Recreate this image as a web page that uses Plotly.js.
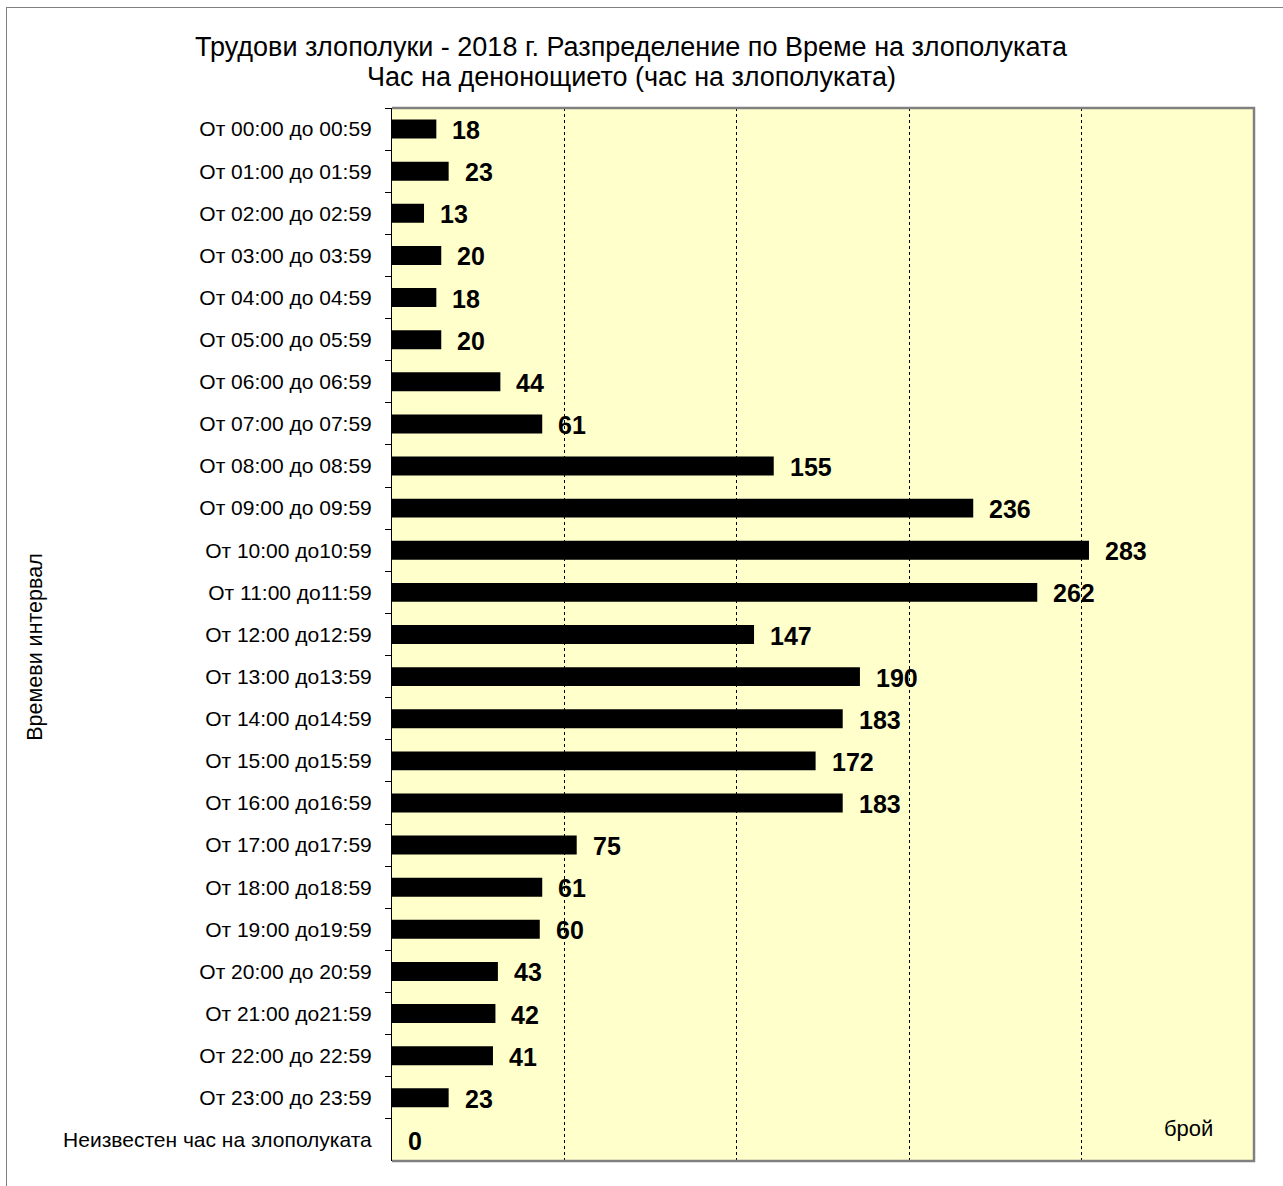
<!DOCTYPE html>
<html><head><meta charset="utf-8">
<script src="https://cdn.plot.ly/plotly-3.0.1.min.js"></script>
<style>
html,body{margin:0;padding:0;background:#fff;}
#frame{position:absolute;left:6px;top:7px;width:1300px;height:1200px;border:1px solid #808080;box-sizing:border-box;pointer-events:none;}
#chart{position:absolute;left:0;top:0;width:1283px;height:1186px;}
</style></head>
<body>
<div id="chart"></div>
<div id="frame"></div>
<script>
const categories = [
  "От 00:00 до 00:59","От 01:00 до 01:59","От 02:00 до 02:59","От 03:00 до 03:59",
  "От 04:00 до 04:59","От 05:00 до 05:59","От 06:00 до 06:59","От 07:00 до 07:59",
  "От 08:00 до 08:59","От 09:00 до 09:59","От 10:00 до10:59","От 11:00 до11:59",
  "От 12:00 до12:59","От 13:00 до13:59","От 14:00 до14:59","От 15:00 до15:59",
  "От 16:00 до16:59","От 17:00 до17:59","От 18:00 до18:59","От 19:00 до19:59",
  "От 20:00 до 20:59","От 21:00 до21:59","От 22:00 до 22:59","От 23:00 до 23:59",
  "Неизвестен час на злополуката"
];
const values = [18,23,13,20,18,20,44,61,155,236,283,262,147,190,183,172,183,75,61,60,43,42,41,23,0];
const titleLines = ["Трудови злополуки - 2018 г. Разпределение по Време на злополуката",
                    "Час на денонощието (час на злополуката)"];
const yTitle = "Времеви интервал";
const unitLabel = "брой";

const FONT = "Arial, Liberation Sans, sans-serif";

const trace = {
  type: "bar", orientation: "h",
  x: values, y: categories,
  marker: {color: "#000000", line: {width: 0}},
  hoverinfo: "x+y"
};

const annotations = values.map((v, i) => ({
  x: v, y: categories[i], xref: "x", yref: "y",
  text: "<b>" + v + "</b>", showarrow: false, xanchor: "left", yanchor: "middle",
  xshift: 14, yshift: -1,
  font: {family: FONT, size: 25, color: "#000"}
}));
annotations.push({
  x: 0.2773, y: 1.0579, xref: "paper", yref: "paper", text: titleLines[0], showarrow: false,
  xanchor: "center", yanchor: "middle", font: {family: FONT, size: 27, color: "#000"}
});
annotations.push({
  x: 0.2773, y: 1.0294, xref: "paper", yref: "paper", text: titleLines[1], showarrow: false,
  xanchor: "center", yanchor: "middle", font: {family: FONT, size: 27, color: "#000"}
});
annotations.push({
  x: -0.415, y: 0.4886, xref: "paper", yref: "paper", text: yTitle, showarrow: false,
  textangle: -90, xanchor: "center", yanchor: "middle", font: {family: FONT, size: 21.5, color: "#000"}
});
annotations.push({
  x: 0.9547, y: 0.0313, xref: "paper", yref: "paper", text: unitLabel, showarrow: false,
  xanchor: "right", yanchor: "middle",
  font: {family: FONT, size: 22, color: "#000"}
});

const layout = {
  width: 1283, height: 1186,
  margin: {l: 392, r: 29, t: 108, b: 25, pad: 0},
  paper_bgcolor: "rgba(0,0,0,0)",
  plot_bgcolor: "#FFFFCC",
  font: {family: FONT, color: "#000"},
  bargap: 0.55,
  showlegend: false,
  xaxis: {
    range: [0, 350], dtick: 70, tick0: 0,
    showticklabels: false, ticks: "",
    showgrid: true, gridcolor: "#000", griddash: "dot", gridwidth: 1,
    zeroline: false, showline: false, fixedrange: true
  },
  yaxis: {
    type: "category", autorange: "reversed",
    tickson: "boundaries", ticks: "outside", ticklen: 6, tickcolor: "#000", tickwidth: 1,
    showline: true, linecolor: "#000", linewidth: 1,
    showgrid: false, zeroline: false,
    tickfont: {family: FONT, size: 21, color: "#000"},
    ticklabelstandoff: 15,
    fixedrange: true
  },
  shapes: [{
    type: "path", xref: "paper", yref: "paper",
    path: "M0,1 L1,1 L1,0 L0,0",
    line: {color: "#808080", width: 2.5}, layer: "above"
  }],
  annotations: annotations
};

Plotly.newPlot("chart", [trace], layout, {displayModeBar: false, staticPlot: true});
</script>
</body></html>
